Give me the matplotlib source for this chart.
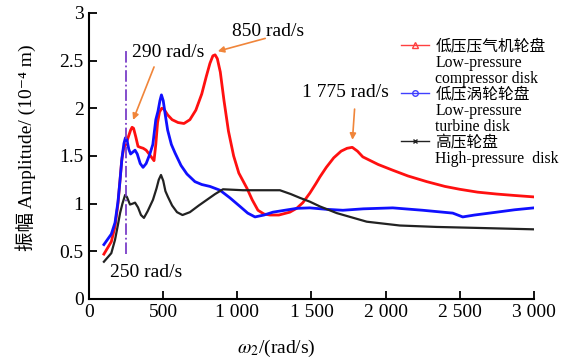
import matplotlib
matplotlib.use('Agg')
import matplotlib.pyplot as plt
from matplotlib.lines import Line2D
from matplotlib.ticker import FixedLocator

plt.rcParams['font.family'] = ['Liberation Serif', 'Noto Sans CJK SC', 'DejaVu Serif']
plt.rcParams['mathtext.fontset'] = 'stix'

# low-pressure compressor disk
lpc_w = [100, 150, 175, 195, 209, 220, 232, 250, 265, 280, 290, 300, 315, 330, 345,
         365, 385, 410, 438, 450, 462, 475, 490, 505, 530, 560, 600, 640, 680, 720,
         760, 790, 815, 835, 850, 865, 885, 910, 940, 975, 1010, 1065, 1100, 1139,
         1180, 1220, 1280, 1354, 1400, 1442, 1489, 1530, 1557, 1600, 1650, 1700,
         1740, 1775, 1810, 1846, 1950, 2048, 2150, 2278, 2400, 2500, 2620, 2749,
         2870, 3000]
lpc_amp = [0.47, 0.60, 0.76, 1.00, 1.25, 1.45, 1.57, 1.63, 1.70, 1.77, 1.80, 1.79,
           1.70, 1.60, 1.59, 1.58, 1.56, 1.51, 1.45, 1.62, 1.85, 1.96, 2.00, 1.99,
           1.93, 1.88, 1.85, 1.84, 1.88, 1.98, 2.15, 2.33, 2.47, 2.55, 2.56, 2.52,
           2.38, 2.08, 1.76, 1.50, 1.32, 1.16, 1.04, 0.93, 0.89, 0.88, 0.88, 0.91,
           0.95, 1.01, 1.11, 1.21, 1.28, 1.38, 1.48, 1.55, 1.58, 1.59, 1.55, 1.49,
           1.41, 1.35, 1.29, 1.23, 1.18, 1.15, 1.12, 1.10, 1.085, 1.07]

# low-pressure turbine disk
lpt_w = [100, 150, 175, 195, 209, 222, 235, 245, 255, 268, 280, 295, 310, 325, 345,
         364, 385, 410, 430, 450, 465, 478, 488, 500, 515, 530, 555, 580, 620, 660,
         714, 760, 815, 883, 950, 1018, 1070, 1119, 1180, 1240, 1320, 1401, 1489,
         1600, 1712, 1850, 2048, 2250, 2453, 2520, 2600, 2749, 2870, 3000]
lpt_amp = [0.57, 0.68, 0.80, 1.02, 1.25, 1.48, 1.63, 1.69, 1.67, 1.57, 1.52, 1.54,
           1.56, 1.52, 1.42, 1.38, 1.42, 1.52, 1.62, 1.88, 1.97, 2.08, 2.14, 2.08,
           1.92, 1.77, 1.62, 1.53, 1.40, 1.31, 1.23, 1.20, 1.18, 1.14, 1.06, 0.97,
           0.90, 0.86, 0.88, 0.91, 0.93, 0.95, 0.955, 0.94, 0.93, 0.945, 0.955,
           0.93, 0.90, 0.86, 0.88, 0.91, 0.935, 0.955]

# high-pressure disk
hp_w = [100, 150, 175, 195, 209, 225, 243, 255, 276, 295, 310, 330, 350, 370, 395,
        431, 455, 470, 485, 500, 515, 532, 560, 593, 630, 680, 740, 795, 850, 903,
        1038, 1180, 1287, 1360, 1422, 1489, 1557, 1671, 1873, 2096, 2345, 2614, 3000]
hp_amp = [0.39, 0.48, 0.62, 0.78, 0.90, 1.00, 1.09, 1.07, 0.99, 1.00, 1.01, 0.96,
          0.88, 0.85, 0.92, 1.04, 1.16, 1.25, 1.30, 1.24, 1.13, 1.07, 0.98, 0.91,
          0.88, 0.91, 0.98, 1.04, 1.10, 1.15, 1.14, 1.14, 1.14, 1.10, 1.06, 1.02,
          0.97, 0.90, 0.81, 0.77, 0.755, 0.745, 0.73]

x_ticks = [0, 500, 1000, 1500, 2000, 2500, 3000]
x_tick_labels = ['0', '500', '1 000', '1 500', '2 000', '2 500', '3 000']
y_ticks = [0, 0.5, 1, 1.5, 2, 2.5, 3]
y_tick_labels = ['0', '0.5', '1', '1.5', '2', '2.5', '3']

w_start = 250
peaks = [(290, 1.80, '290 rad/s'), (850, 2.56, '850 rad/s'), (1775, 1.59, '1 775 rad/s')]

fig = plt.figure(figsize=(5.71, 3.58), dpi=100)
ax = fig.add_axes([0.156, 0.165, 0.779, 0.799])

ax.plot(lpc_w, lpc_amp, color='#ff1010', lw=2.0)
ax.plot(lpt_w, lpt_amp, color='#1010ff', lw=2.0)
ax.plot(hp_w, hp_amp, color='#222222', lw=1.6)

# start speed marker
ax.plot([w_start, w_start], [0.47, 2.62], color='#7b3fc8', lw=1.3, ls='-.')
ax.text(w_start - 109, 0.28, f'{w_start} rad/s', fontsize=14, va='center', ha='left')

# peak labels with arrows
arrow_kw = dict(arrowstyle='-|>', color='#f0853a', lw=1.2, mutation_scale=9)
text_pos = [(290, 2.58), (964, 2.80), (1435, 2.16)]
tail_pos = [(445, 2.46), (1206, 2.74), (1792, 2.02)]
tip_off = [0.05, 0.03, 0.05]
for (pw, pa, lab), (tx, ty), (ax_, ay_), d in zip(peaks, text_pos, tail_pos, tip_off):
    ax.text(tx, ty, lab, fontsize=14, ha='left', va='center')
    ax.annotate('', xy=(pw, pa + d), xytext=(ax_, ay_), arrowprops=arrow_kw)

ax.set_xlim(0, 3000)
ax.set_ylim(0, 3)
ax.xaxis.set_major_locator(FixedLocator(x_ticks))
ax.set_xticklabels(x_tick_labels)
ax.yaxis.set_major_locator(FixedLocator(y_ticks))
ax.set_yticklabels(y_tick_labels)
ax.tick_params(direction='in', length=6, width=1.3, labelsize=14, pad=4)
for s in ['top', 'right']:
    ax.spines[s].set_visible(False)
for s in ['left', 'bottom']:
    ax.spines[s].set_linewidth(1.5)

ax.set_xlabel(r'$\omega_2$/(rad/s)', fontsize=14)
ax.xaxis.set_label_coords(0.42, -0.135)
ax.set_ylabel('振幅 Amplitude/ (10⁻⁴ m)', fontsize=14)
ax.yaxis.set_label_coords(-0.12, 0.53)

blank = Line2D([], [], color='none')
handles = [
    Line2D([], [], color='#ff4040', lw=1, marker='^', ms=4, mfc='none'), blank, blank,
    Line2D([], [], color='#4040ff', lw=1, marker='o', ms=4, mfc='none'), blank, blank,
    Line2D([], [], color='#222222', lw=1, marker='x', ms=3), blank,
]
labels = ['低压压气机轮盘', 'Low-pressure', 'compressor disk',
          '低压涡轮轮盘', 'Low-pressure', 'turbine disk',
          '高压轮盘', 'High-pressure  disk']
fig.legend(handles, labels, loc='upper left', bbox_to_anchor=(393 / 571, 1 - 31 / 358),
           frameon=False, fontsize=11.3, borderpad=0, labelspacing=0.0,
           handlelength=1.8, handletextpad=0.4)

fig.savefig('out.png', dpi=100)
